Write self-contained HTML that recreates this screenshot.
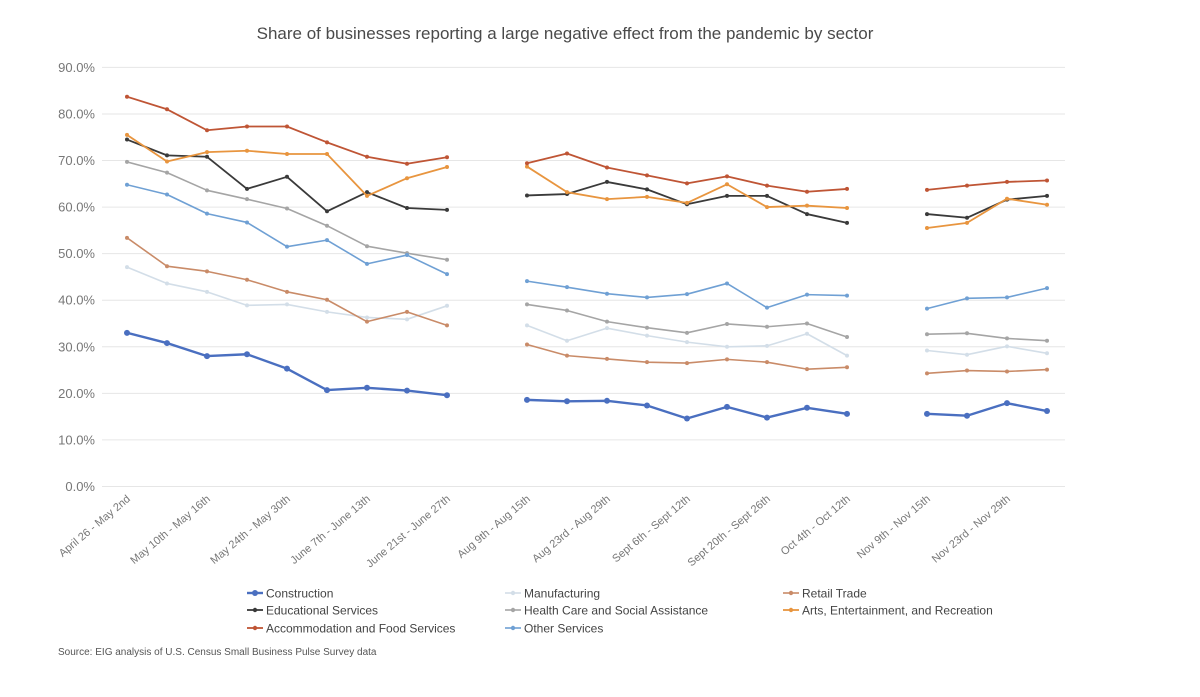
<!DOCTYPE html>
<html><head><meta charset="utf-8"><style>
body{margin:0;background:#fff;font-family:"Liberation Sans",sans-serif;}
svg text{font-family:"Liberation Sans",sans-serif;}
</style></head><body>
<svg id="chart" width="1200" height="692" viewBox="0 0 1200 692" xmlns="http://www.w3.org/2000/svg">
<rect width="1200" height="692" fill="#fff"/>
<text x="565" y="39" text-anchor="middle" font-size="17" fill="#4a4a4a">Share of businesses reporting a large negative effect from the pandemic by sector</text>
<g id="grid"></g><g id="ylabels"></g><g id="xlabels"></g><g id="series"></g><g id="legend"></g>
<text x="58" y="655" font-size="10" fill="#555">Source: EIG analysis of U.S. Census Small Business Pulse Survey data</text>
</svg>
<script>
const categories = ["April 26 - May 2nd","May 3rd - May 9th","May 10th - May 16th","May 17th - May 23rd","May 24th - May 30th","May 31st - June 6th","June 7th - June 13th","June 14th - June 20th","June 21st - June 27th","","Aug 9th - Aug 15th","Aug 16th - Aug 22nd","Aug 23rd - Aug 29th","Aug 30th - Sept 5th","Sept 6th - Sept 12th","Sept 13th - Sept 19th","Sept 20th - Sept 26th","Sept 27th - Oct 3rd","Oct 4th - Oct 12th","","Nov 9th - Nov 15th","Nov 16th - Nov 22nd","Nov 23rd - Nov 29th","Nov 30th - Dec 6th"];
const tickLabels = ["April 26 - May 2nd","","May 10th - May 16th","","May 24th - May 30th","","June 7th - June 13th","","June 21st - June 27th","","Aug 9th - Aug 15th","","Aug 23rd - Aug 29th","","Sept 6th - Sept 12th","","Sept 20th - Sept 26th","","Oct 4th - Oct 12th","","Nov 9th - Nov 15th","","Nov 23rd - Nov 29th",""];
const yTicks = [0,10,20,30,40,50,60,70,80,90];
const seriesNames = ["Construction","Manufacturing","Retail Trade","Educational Services","Health Care and Social Assistance","Arts, Entertainment, and Recreation","Accommodation and Food Services","Other Services"];
const N = null;
const construction = [33,30.8,28,28.4,25.3,20.7,21.2,20.6,19.6,N,18.6,18.3,18.4,17.4,14.6,17.1,14.8,16.9,15.6,N,15.6,15.2,17.9,16.2];
const manufacturing = [47.1,43.6,41.8,38.9,39.1,37.5,36.3,35.9,38.8,N,34.6,31.3,34.0,32.4,31.0,30.0,30.2,32.8,28.1,N,29.2,28.3,30.1,28.6];
const retail = [53.4,47.3,46.2,44.4,41.8,40.1,35.4,37.5,34.6,N,30.5,28.1,27.4,26.7,26.5,27.3,26.7,25.2,25.6,N,24.3,24.9,24.7,25.1];
const educational = [74.5,71.1,70.8,63.9,66.5,59.1,63.2,59.8,59.4,N,62.5,62.8,65.4,63.8,60.6,62.4,62.4,58.5,56.6,N,58.5,57.7,61.6,62.4];
const health = [69.7,67.4,63.6,61.7,59.7,56.0,51.6,50.1,48.7,N,39.1,37.8,35.4,34.1,33.0,34.9,34.3,35.0,32.1,N,32.7,32.9,31.8,31.3];
const arts = [75.5,69.8,71.8,72.1,71.4,71.4,62.4,66.2,68.6,N,68.7,63.2,61.7,62.2,60.9,64.9,60.0,60.3,59.8,N,55.5,56.6,61.8,60.5];
const accommodation = [83.7,81.0,76.5,77.3,77.3,73.9,70.8,69.3,70.7,N,69.4,71.5,68.5,66.8,65.1,66.6,64.6,63.3,63.9,N,63.7,64.6,65.4,65.7];
const other = [64.8,62.7,58.6,56.7,51.5,52.9,47.8,49.7,45.6,N,44.1,42.8,41.4,40.6,41.3,43.6,38.4,41.2,41.0,N,38.2,40.4,40.6,42.6];
const allSeries = [construction,manufacturing,retail,educational,health,arts,accommodation,other];
const colors = ["#4a6fc0","#d3dee8","#c98b68","#3a3a3a","#a5a5a5","#e8953f","#bf5535","#6fa0d4"];
const widths = [2.4,1.6,1.6,1.8,1.6,1.8,1.8,1.6];
const keys = ["construction","manufacturing","retail-trade","educational-services","health-care","arts-entertainment","accommodation-food","other-services"];
const NS="http://www.w3.org/2000/svg";
const x0=127, dx=40, yZero=486.5, yPer=4.657, gridL=102, gridR=1065;
const xs = i => x0 + dx*i;
const ys = v => yZero - v*yPer;
function mk(t,attrs,parent){const e=document.createElementNS(NS,t);for(const k in attrs)e.setAttribute(k,attrs[k]);parent.appendChild(e);return e;}
const grid=document.getElementById('grid'), yl=document.getElementById('ylabels'), xl=document.getElementById('xlabels'), sg=document.getElementById('series'), lg=document.getElementById('legend');
yTicks.forEach(v=>{
  const l=mk('line',{x1:gridL,x2:gridR,y1:ys(v),y2:ys(v),stroke:'#e6e6e6','stroke-width':1},grid);
  
  
  const t=mk('text',{x:95,y:ys(v)+4.5,'text-anchor':'end','font-size':13,fill:'#777'},yl);
  t.textContent=v.toFixed(1)+'%';
  
  
});
tickLabels.forEach((lab,i)=>{
  if(!lab)return;
  const t=mk('text',{transform:`translate(${xs(i)+4},${500}) rotate(-40)`,'text-anchor':'end','font-size':11,fill:'#777'},xl);
  t.textContent=lab;
  
  
});
allSeries.forEach((data,s)=>{
  const g=mk('g',{},sg);
  
  
  let segs=[],cur=[];
  data.forEach((v,i)=>{if(v==null){if(cur.length)segs.push(cur);cur=[];}else cur.push([xs(i),ys(v)]);});
  if(cur.length)segs.push(cur);
  segs.forEach(seg=>{
    const p=mk('polyline',{points:seg.map(q=>q.join(',')).join(' '),fill:'none',stroke:colors[s],'stroke-width':widths[s],'stroke-linejoin':'round'},g);
    
    
  });
  data.forEach((v,i)=>{
    if(v==null)return;
    const c=mk('circle',{cx:xs(i),cy:ys(v),r:s===0?3:2,fill:colors[s]},g);
    
    
  });
});
const legX=[255,513,791], legY=[593,610,628];
seriesNames.forEach((n,s)=>{
  const cx=legX[s%3], cy=legY[Math.floor(s/3)];
  const g=mk('g',{},lg);
  
  
  mk('line',{x1:cx-8,x2:cx+8,y1:cy,y2:cy,stroke:colors[s],'stroke-width':widths[s]},g);
  mk('circle',{cx:cx,cy:cy,r:s===0?3:2.2,fill:colors[s]},g);
  const t=mk('text',{x:cx+11,y:cy+4.5,'font-size':12,fill:'#444'},g);
  t.textContent=n;
});
</script>
</body></html>
